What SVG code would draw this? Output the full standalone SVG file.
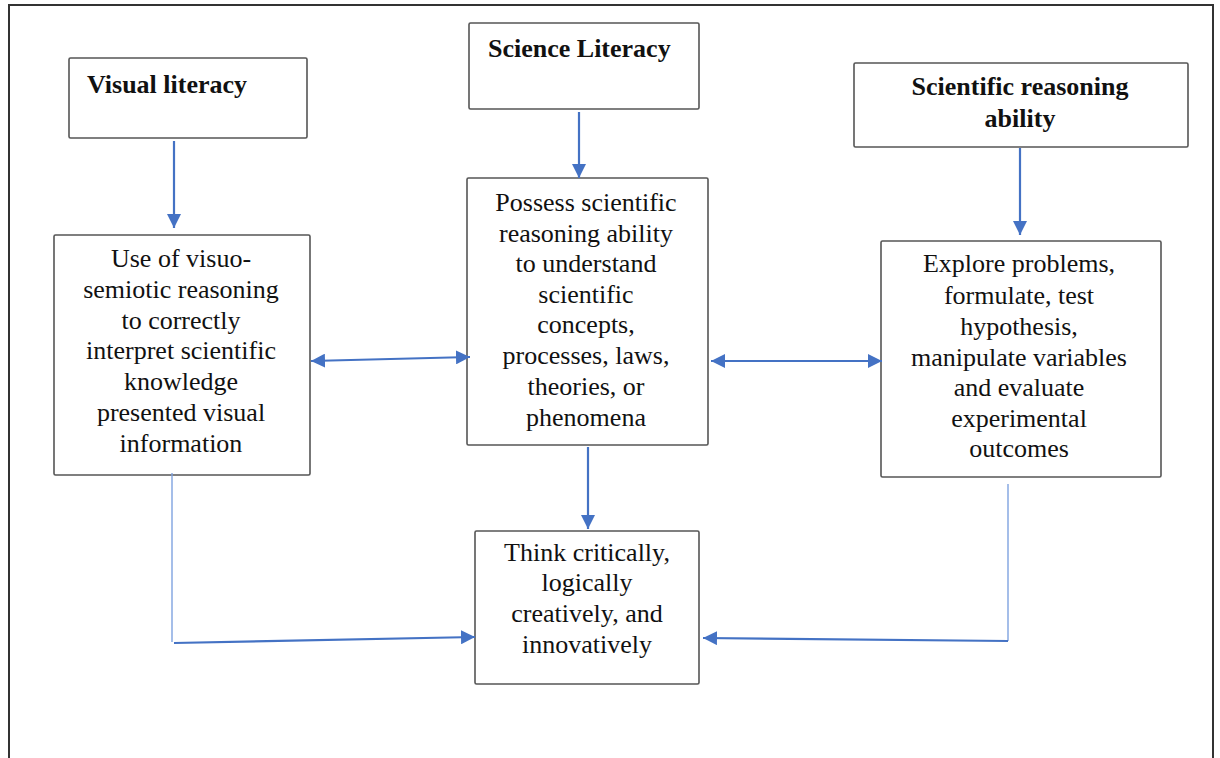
<svg xmlns="http://www.w3.org/2000/svg" width="1220" height="758" viewBox="0 0 1220 758">
  <style>
    .frame { fill: none; stroke: #333; stroke-width: 2; }
    .box { fill: #fff; stroke: #555; stroke-width: 1.6; }
    .title { font-family: "Liberation Serif", "Times New Roman", serif; font-weight: bold; font-size: 26px; fill: #111; }
    .body { font-family: "Liberation Serif", "Times New Roman", serif; font-size: 26px; fill: #111; text-anchor: middle; }
    .arrow { fill: none; stroke: #4472C4; stroke-width: 2.2; }
    .thin { fill: none; stroke: #7fa3e0; stroke-width: 1.4; }
  </style>
  <defs>
    <marker id="head" viewBox="0 0 14 14" refX="14" refY="7" markerWidth="14" markerHeight="14" markerUnits="userSpaceOnUse" orient="auto-start-reverse">
      <path d="M0,0 L14,7 L0,14 z" fill="#4472C4"/>
    </marker>
  </defs>

  <rect width="1220" height="758" fill="#fff"/>
  <!-- outer frame (bottom edge runs past the canvas) -->
  <rect class="frame" x="9" y="5" width="1204" height="780"/>

  <g id="visual-literacy">
    <rect class="box" x="69" y="58" width="238" height="80" rx="1.5"/>
    <text class="title" x="87" y="93">Visual literacy</text>
  </g>

  <g id="science-literacy">
    <rect class="box" x="469" y="23" width="230" height="86" rx="1.5"/>
    <text class="title" x="488" y="57">Science Literacy</text>
  </g>

  <g id="scientific-reasoning">
    <rect class="box" x="854" y="63" width="334" height="84" rx="1.5"/>
    <text class="title" text-anchor="middle" x="1020" y="95">Scientific reasoning</text>
    <text class="title" text-anchor="middle" x="1020" y="127">ability</text>
  </g>

  <g id="visuo-semiotic">
    <rect class="box" x="54" y="235" width="256" height="240" rx="1.5"/>
    <text class="body" x="181" y="267">Use of visuo-</text>
    <text class="body" x="181" y="298">semiotic reasoning</text>
    <text class="body" x="181" y="329">to correctly</text>
    <text class="body" x="181" y="359">interpret scientific</text>
    <text class="body" x="181" y="390">knowledge</text>
    <text class="body" x="181" y="421">presented visual</text>
    <text class="body" x="181" y="452">information</text>
  </g>

  <g id="possess-reasoning">
    <rect class="box" x="467" y="178" width="241" height="267" rx="1.5"/>
    <text class="body" x="586" y="211">Possess scientific</text>
    <text class="body" x="586" y="242">reasoning ability</text>
    <text class="body" x="586" y="272">to understand</text>
    <text class="body" x="586" y="303">scientific</text>
    <text class="body" x="586" y="333">concepts,</text>
    <text class="body" x="586" y="364">processes, laws,</text>
    <text class="body" x="586" y="395">theories, or</text>
    <text class="body" x="586" y="426">phenomena</text>
  </g>

  <g id="explore-problems">
    <rect class="box" x="881" y="241" width="280" height="236" rx="1.5"/>
    <text class="body" x="1019" y="272">Explore problems,</text>
    <text class="body" x="1019" y="304">formulate, test</text>
    <text class="body" x="1019" y="335">hypothesis,</text>
    <text class="body" x="1019" y="366">manipulate variables</text>
    <text class="body" x="1019" y="396">and evaluate</text>
    <text class="body" x="1019" y="427">experimental</text>
    <text class="body" x="1019" y="457">outcomes</text>
  </g>

  <g id="think-critically">
    <rect class="box" x="475" y="531" width="224" height="153" rx="1.5"/>
    <text class="body" x="587" y="561">Think critically,</text>
    <text class="body" x="587" y="591">logically</text>
    <text class="body" x="587" y="622">creatively, and</text>
    <text class="body" x="587" y="653">innovatively</text>
  </g>

  <g id="connectors">
    <line class="arrow" x1="174" y1="141" x2="174" y2="228" marker-end="url(#head)"/>
    <line class="arrow" x1="579" y1="112" x2="579" y2="178" marker-end="url(#head)"/>
    <line class="arrow" x1="1020" y1="148" x2="1020" y2="235" marker-end="url(#head)"/>
    <line class="arrow" x1="588" y1="447" x2="588" y2="529" marker-end="url(#head)"/>
    <line class="arrow" x1="311" y1="361" x2="470" y2="357" marker-start="url(#head)" marker-end="url(#head)"/>
    <line class="arrow" x1="711" y1="361" x2="882" y2="361" marker-start="url(#head)" marker-end="url(#head)"/>
    <!-- elbow from the left box into the bottom box -->
    <line class="thin" x1="172" y1="473" x2="172" y2="642"/>
    <line class="arrow" x1="174" y1="643" x2="475" y2="637" marker-end="url(#head)"/>
    <!-- elbow from the right box into the bottom box -->
    <line class="thin" x1="1008" y1="484" x2="1008" y2="641"/>
    <line class="arrow" x1="1008" y1="641" x2="703" y2="638" marker-end="url(#head)"/>
  </g>
</svg>
